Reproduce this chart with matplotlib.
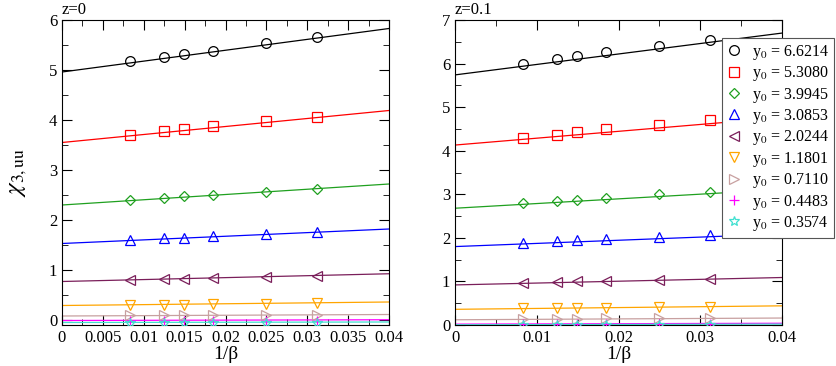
import numpy as np
import matplotlib.pyplot as plt
from matplotlib.ticker import MultipleLocator, FuncFormatter

plt.rcParams['font.family'] = ['Liberation Serif', 'DejaVu Serif']
plt.rcParams['mathtext.fontset'] = 'stix'

# 1/beta values of the data points
inv_beta = [1/120, 1/80, 1/67, 1/54, 1/40, 1/32]

y0_labels = ["6.6214", "5.3080", "3.9945", "3.0853", "2.0244",
             "1.1801", "0.7110", "0.4483", "0.3574"]
colors = ["black", "red", "#1fa01f", "blue", "#7a1e5a",
          "orange", "#c8a0a0", "magenta", "#40e0d0"]
markers = ["o", "s", "D", "^", "<", "v", ">", "+", "*"]

# z = 0 panel: data points and fit endpoints (value at 0, value at 0.04)
z0_points = [
    [5.18, 5.27, 5.32, 5.39, 5.53, 5.65],
    [3.70, 3.78, 3.82, 3.88, 3.97, 4.06],
    [2.39, 2.44, 2.47, 2.51, 2.57, 2.63],
    [1.60, 1.64, 1.65, 1.68, 1.72, 1.76],
    [0.80, 0.82, 0.82, 0.84, 0.87, 0.88],
    [0.30, 0.31, 0.31, 0.32, 0.33, 0.34],
    [0.10, 0.10, 0.10, 0.10, 0.11, 0.11],
    [-0.01, -0.01, -0.01, -0.01, -0.01, -0.01],
    [-0.06, -0.06, -0.06, -0.06, -0.06, -0.06],
]
z0_fit = [(4.96, 5.83), (3.55, 4.19), (2.30, 2.72), (1.53, 1.82),
          (0.77, 0.925), (0.29, 0.36), (0.08, 0.11), (-0.01, 0.005),
          (-0.05, -0.04)]

# z = 0.1 panel
z1_points = [
    [5.99, 6.10, 6.17, 6.26, 6.41, 6.53],
    [4.30, 4.37, 4.42, 4.49, 4.60, 4.70],
    [2.80, 2.85, 2.87, 2.92, 3.00, 3.06],
    [1.89, 1.93, 1.95, 1.97, 2.03, 2.07],
    [0.96, 0.99, 1.00, 1.01, 1.04, 1.06],
    [0.38, 0.39, 0.39, 0.40, 0.41, 0.42],
    [0.14, 0.14, 0.14, 0.15, 0.15, 0.15],
    [0.03, 0.03, 0.03, 0.03, 0.03, 0.03],
    [0.01, 0.01, 0.01, 0.01, 0.01, 0.01],
]
z1_fit = [(5.74, 6.70), (4.13, 4.76), (2.68, 3.11), (1.80, 2.09),
          (0.92, 1.09), (0.36, 0.44), (0.12, 0.16), (0.02, 0.04),
          (0.005, 0.02)]

fig = plt.figure(figsize=(8.36, 3.66), dpi=100)
ax1 = fig.add_axes([62/836, 41/366, 327/836, 305/366])
ax2 = fig.add_axes([455/836, 41/366, 327/836, 305/366])

fmt = FuncFormatter(lambda v, p: "%g" % round(v, 6))

def panel(ax, pts, fits, title):
    for i in range(len(pts)):
        ax.plot([0, 0.04], fits[i], color=colors[i], lw=0.9, zorder=2)
        ax.plot(inv_beta, pts[i], linestyle='none', marker=markers[i],
                ms=7 if markers[i] != 'D' else 5.5, mfc='none',
                mec=colors[i], mew=0.9, zorder=3,
                label="y$_0$ = " + y0_labels[i])
    ax.set_xlim(0, 0.04)
    ax.tick_params(which='both', direction='in', top=True, right=True,
                   labelsize=12)
    ax.tick_params(which='major', length=7)
    ax.tick_params(which='minor', length=4)
    ax.xaxis.set_major_formatter(fmt)
    ax.set_xlabel("1/β", fontsize=14, labelpad=0)
    ax.text(0.0, 1.005, title, transform=ax.transAxes, ha='left',
            va='bottom', fontsize=12)

panel(ax1, z0_points, z0_fit, "z=0")
ax1.set_ylim(-0.1, 6)
ax1.xaxis.set_major_locator(MultipleLocator(0.005))
ax1.xaxis.set_minor_locator(MultipleLocator(0.0025))
ax1.yaxis.set_major_locator(MultipleLocator(1))
ax1.yaxis.set_minor_locator(MultipleLocator(0.5))
ax1.set_ylabel(r"$\chi_{3,\mathrm{uu}}$", fontsize=18, labelpad=14)

panel(ax2, z1_points, z1_fit, "z=0.1")
ax2.set_ylim(0, 7)
ax2.xaxis.set_major_locator(MultipleLocator(0.01))
ax2.xaxis.set_minor_locator(MultipleLocator(0.005))
ax2.yaxis.set_major_locator(MultipleLocator(1))
ax2.yaxis.set_minor_locator(MultipleLocator(0.5))

leg = ax2.legend(loc='upper right', bbox_to_anchor=(834/836, 328/366),
                 bbox_transform=fig.transFigure, fontsize=11.5,
                 fancybox=False, framealpha=1, edgecolor='#555555',
                 handlelength=1.0, handletextpad=0.6, labelspacing=0.15,
                 borderpad=0.3, borderaxespad=0)
leg.get_frame().set_linewidth(0.8)

fig.savefig("out.png", dpi=100)
